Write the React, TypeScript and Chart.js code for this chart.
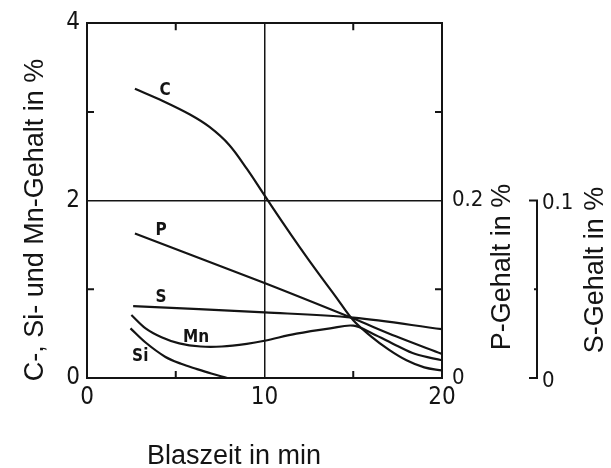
import React, { useEffect, useRef } from 'react';
import { Chart, registerables } from 'chart.js';
Chart.register(...registerables);

// Blaszeit in min (x) and contents
const cTime = [2.7, 4.3, 5.8, 6.9, 8.0, 9.0, 9.9, 11.0, 12.0, 13.0, 14.0, 15.0, 16.0, 17.0, 18.0, 19.0, 20.0];
const cValues = [3.26, 3.12, 2.97, 2.83, 2.63, 2.36, 2.09, 1.76, 1.47, 1.19, 0.92, 0.65, 0.47, 0.32, 0.2, 0.12, 0.085];

const pTime = [2.7, 10.0, 15.0, 17.4, 20.0];
const pValues = [0.163, 0.107, 0.067, 0.047, 0.027];

const sTime = [2.6, 10.0, 15.0, 20.0];
const sValues = [0.0405, 0.037, 0.034, 0.0275];

const mnTime = [2.5, 3.3, 4.2, 5.2, 6.4, 7.6, 9.0, 10.0, 11.8, 13.7, 15.0, 16.1, 17.4, 18.5, 20.0];
const mnValues = [0.71, 0.56, 0.46, 0.39, 0.355, 0.355, 0.385, 0.42, 0.5, 0.56, 0.59, 0.5, 0.37, 0.27, 0.2];

const siTime = [2.45, 3.3, 4.4, 5.3, 6.2, 7.0, 7.9];
const siValues = [0.56, 0.4, 0.24, 0.16, 0.1, 0.05, 0.0];

// tick labels
const xTickLabels = [0, 10, 20];
const leftTickLabels = [0, 2, 4];
const pTickLabels = [0, 0.2];
const sTickLabels = [0, 0.1];
const xMinorTicks = [5, 15];
const yMinorTicks = [1, 3];

// curve names
const curveNames = ['C', 'P', 'S', 'Mn', 'Si'];
const curveNameX = [4.4, 4.17, 4.17, 6.14, 3.0];
const curveNameY = [3.24, 1.66, 0.91, 0.455, 0.24];

const xTitle = 'Blaszeit in min';
const leftTitle = 'C-, Si- und Mn-Gehalt in %';
const pTitle = 'P-Gehalt in %';
const sTitle = 'S-Gehalt in %';

const INK = '#141414';
const NARROW = "'Liberation Sans Narrow', 'DejaVu Sans Condensed', 'Arial Narrow', 'Liberation Sans', sans-serif";
const SANS = "'Liberation Sans', Arial, sans-serif";

const pts = (xs: number[], ys: number[]) => xs.map((x, i) => ({ x, y: ys[i] }));
const near = (a: number, list: number[]) => list.some((v) => Math.abs(v - a) < 1e-6);

const decorPlugin = {
  id: 'decor',
  afterDraw(chart: any) {
    const { ctx, chartArea: a, scales } = chart;
    const x = scales.x;
    const y = scales.y;
    const yS = scales.yS;
    ctx.save();
    ctx.strokeStyle = INK;
    ctx.fillStyle = INK;
    ctx.lineWidth = 2;
    // inward minor ticks
    const tl = 7;
    ctx.beginPath();
    xMinorTicks.forEach((v) => {
      const px = x.getPixelForValue(v);
      ctx.moveTo(px, a.bottom);
      ctx.lineTo(px, a.bottom - tl);
      ctx.moveTo(px, a.top);
      ctx.lineTo(px, a.top + tl);
    });
    yMinorTicks.forEach((v) => {
      const py = y.getPixelForValue(v);
      ctx.moveTo(a.left, py);
      ctx.lineTo(a.left + tl, py);
      ctx.moveTo(a.right, py);
      ctx.lineTo(a.right - tl, py);
    });
    ctx.stroke();

    // S bracket axis
    const bx = 537;
    const sTop = yS.getPixelForValue(sTickLabels[1]);
    const sBot = yS.getPixelForValue(sTickLabels[0]);
    const sMid = yS.getPixelForValue((sTickLabels[0] + sTickLabels[1]) / 2);
    ctx.beginPath();
    ctx.moveTo(bx - 8, sTop);
    ctx.lineTo(bx, sTop);
    ctx.lineTo(bx, sBot);
    ctx.lineTo(bx - 8, sBot);
    ctx.moveTo(bx, sMid);
    ctx.lineTo(bx - 3, sMid);
    ctx.stroke();
    ctx.font = `22px ${NARROW}`;
    ctx.textAlign = 'left';
    ctx.textBaseline = 'middle';
    sTickLabels.forEach((v) => {
      ctx.fillText(String(v), bx + 5, yS.getPixelForValue(v) + 3);
    });

    // curve names
    ctx.font = `bold 17px 'DejaVu Sans Condensed', 'DejaVu Sans', sans-serif`;
    ctx.textAlign = 'center';
    ctx.textBaseline = 'middle';
    curveNames.forEach((n, i) => {
      ctx.fillText(n, x.getPixelForValue(curveNameX[i]), y.getPixelForValue(curveNameY[i]));
    });

    // axis titles
    ctx.font = `27px ${SANS}`;
    ctx.textAlign = 'center';
    ctx.textBaseline = 'middle';
    ctx.fillText(xTitle, 234, 457);
    const vert = (t: string, cx: number, cy: number) => {
      ctx.save();
      ctx.translate(cx, cy);
      ctx.rotate(-Math.PI / 2);
      ctx.fillText(t, 0, 0);
      ctx.restore();
    };
    vert(leftTitle, 36, 220);
    vert(pTitle, 503, 267);
    vert(sTitle, 596, 270);
    ctx.restore();
  },
};

export default function App() {
  const ref = useRef<HTMLCanvasElement | null>(null);
  useEffect(() => {
    if (!ref.current) return;
    const line = (data: any, yAxisID: string) => ({
      data,
      yAxisID,
      borderColor: INK,
      borderWidth: 2.2,
      pointRadius: 0,
      fill: false,
      tension: 0.35,
    });
    const chart = new Chart(ref.current, {
      type: 'line',
      data: {
        datasets: [
          line(pts(cTime, cValues), 'y'),
          line(pts(pTime, pValues), 'yP'),
          line(pts(sTime, sValues), 'yS'),
          line(pts(mnTime, mnValues), 'y'),
          line(pts(siTime, siValues), 'y'),
        ],
      },
      options: {
        responsive: false,
        animation: false,
        layout: { padding: 0 },
        plugins: { legend: { display: false }, tooltip: { enabled: false }, title: { display: false } },
        scales: {
          x: {
            type: 'linear',
            position: 'bottom',
            min: 0,
            max: 20,
            afterFit: (s: any) => { s.height = 90; },
            ticks: {
              stepSize: 5,
              autoSkip: false,
              maxRotation: 0,
              padding: 5,
              color: INK,
              font: { family: NARROW, size: 24 },
              callback: (v: any) => (near(Number(v), xTickLabels) ? String(v) : ''),
            },
            grid: {
              drawTicks: false,
              lineWidth: 1.5,
              color: (c: any) => (c.tick && c.tick.value === 10 ? INK : 'rgba(0,0,0,0)'),
            },
            border: { display: true, color: INK, width: 2 },
          },
          xTop: {
            type: 'linear',
            position: 'top',
            min: 0,
            max: 20,
            afterFit: (s: any) => { s.height = 20; },
            ticks: { display: false },
            grid: { display: false, drawTicks: false },
            border: { display: true, color: INK, width: 2 },
          },
          y: {
            type: 'linear',
            position: 'left',
            min: 0,
            max: 4,
            afterFit: (s: any) => { s.width = 87; },
            ticks: {
              stepSize: 1,
              autoSkip: false,
              padding: 7,
              color: INK,
              font: { family: NARROW, size: 24 },
              callback: (v: any) => (near(Number(v), leftTickLabels) ? String(v) : ''),
            },
            grid: {
              drawTicks: false,
              lineWidth: 1.5,
              color: (c: any) => (c.tick && c.tick.value === 2 ? INK : 'rgba(0,0,0,0)'),
            },
            border: { display: true, color: INK, width: 2 },
          },
          yP: {
            type: 'linear',
            position: 'right',
            min: 0,
            max: 0.4,
            afterFit: (s: any) => { s.width = 169; },
            ticks: {
              stepSize: 0.1,
              autoSkip: false,
              padding: 10,
              color: INK,
              font: { family: NARROW, size: 22 },
              callback: (v: any) => (near(Number(v), pTickLabels) ? String(v) : ''),
            },
            grid: { display: false, drawTicks: false },
            border: { display: true, color: INK, width: 2 },
          },
          yS: {
            type: 'linear',
            position: 'right',
            display: false,
            min: 0,
            max: 0.2,
          },
        },
      },
      plugins: [decorPlugin],
    } as any);
    return () => chart.destroy();
  }, []);
  return (
    <div style={{ position: 'fixed', left: 0, top: 0, width: 611, height: 468, background: '#fff' }}>
      <canvas ref={ref} width={611} height={468} />
    </div>
  );
}
